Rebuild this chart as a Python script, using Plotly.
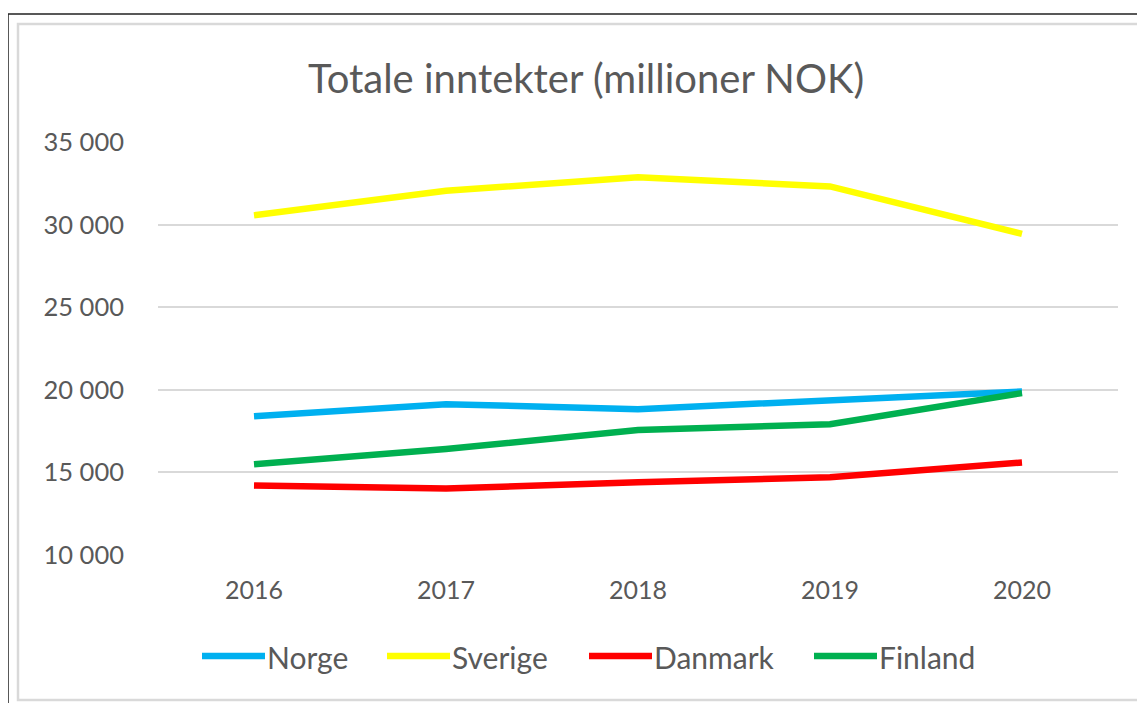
import plotly.graph_objects as go

years = ["2016", "2017", "2018", "2019", "2020"]
norge = [18400, 19130, 18830, 19330, 19900]
sverige = [30560, 32050, 32860, 32310, 29440]
danmark = [14200, 14030, 14400, 14700, 15600]
finland = [15500, 16410, 17560, 17920, 19800]

series_names = ["Norge", "Sverige", "Danmark", "Finland"]
series_colors = ["#00B0F0", "#FFFF00", "#FF0000", "#00B050"]
series_values = [norge, sverige, danmark, finland]

y_tickvals = [10000, 15000, 20000, 25000, 30000, 35000]
y_ticktext = ["10 000", "15 000", "20 000", "25 000", "30 000", "35 000"]

# the page body has an 8px default margin; work in screen pixels and offset
OFF = 8
SW, SH = 1145, 703
W, H = SW - OFF, SH - OFF
# plot area in screen pixels
PL, PR, PT, PB = 158, 1118, 142, 555
ML, MR, MT, MB = PL - OFF, W - (PR - OFF), PT - OFF, H - (PB - OFF)
PW = PR - PL
PH = PB - PT
TXT = "#595959"
FONT = "Lato"


def px_x(px):
    return (px - PL) / PW


def px_y(py):
    return (PB - py) / PH


fig = go.Figure()
for name, color, vals in zip(series_names, series_colors, series_values):
    fig.add_trace(go.Scatter(
        x=years, y=vals, name=name, mode="lines",
        line=dict(color=color, width=6.5),
        showlegend=False,
    ))

shapes = [
    dict(type="rect", xref="paper", yref="paper",
         x0=px_x(8), y0=px_y(730), x1=px_x(1170), y1=px_y(14),
         line=dict(color="#222222", width=1.5), fillcolor="rgba(0,0,0,0)", layer="below"),
    dict(type="rect", xref="paper", yref="paper",
         x0=px_x(18), y0=px_y(700), x1=px_x(1170), y1=px_y(24),
         line=dict(color="#d9d9d9", width=2.5), fillcolor="rgba(0,0,0,0)", layer="below"),
]

annotations = []
legend_text_x = [268, 453, 655, 880]
legend_y = 656
for name, color, tx in zip(series_names, series_colors, legend_text_x):
    shapes.append(dict(type="line", xref="paper", yref="paper",
                       x0=px_x(tx - 66), x1=px_x(tx - 3),
                       y0=px_y(legend_y), y1=px_y(legend_y),
                       line=dict(color=color, width=6.5)))
    annotations.append(dict(text=name, xref="paper", yref="paper",
                            x=px_x(tx - 3), y=px_y(legend_y + 1),
                            xanchor="left", yanchor="middle", showarrow=False,
                            font=dict(family=FONT, size=30, color=TXT)))

fig.update_layout(
    width=W, height=H,
    margin=dict(l=ML, r=MR, t=MT, b=MB, pad=0),
    paper_bgcolor="white", plot_bgcolor="white",
    title=dict(text="Totale inntekter (millioner NOK)",
               x=(586 - OFF) / W, xref="container", xanchor="center",
               y=1 - (79 - OFF) / H, yref="container", yanchor="middle",
               font=dict(family=FONT, size=40, color=TXT)),
    xaxis=dict(type="category", range=[-0.5, 4.5], showgrid=False,
               showline=False, zeroline=False, ticks="",
               ticklabelstandoff=18,
               tickfont=dict(family=FONT, size=25, color=TXT)),
    yaxis=dict(range=[10000, 35000], tickvals=y_tickvals, ticktext=y_ticktext,
               showgrid=True, gridcolor="#d9d9d9", gridwidth=2,
               zeroline=False, showline=False, ticks="",
               ticklabelstandoff=33,
               tickfont=dict(family=FONT, size=25.5, color=TXT)),
    shapes=shapes,
    annotations=annotations,
    showlegend=False,
)

fig.write_html("out.html")
